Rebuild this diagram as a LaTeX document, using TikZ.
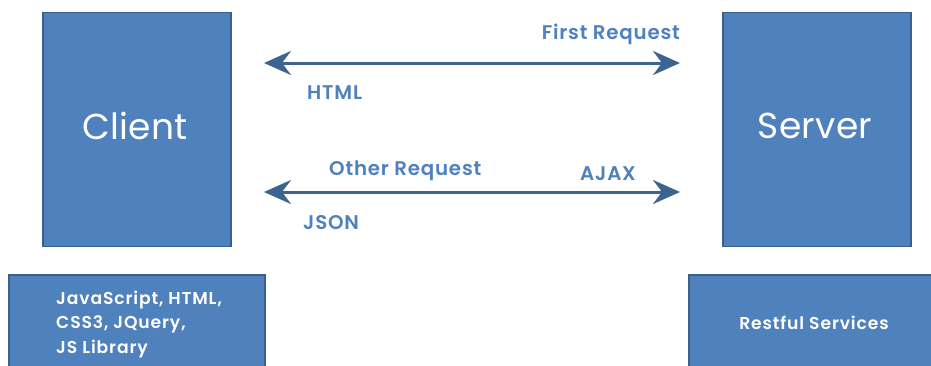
\documentclass[tikz,border=0pt]{standalone}
\usepackage{fontspec}
\setmainfont{Poppins}[BoldFont={Poppins SemiBold}]
\usetikzlibrary{arrows.meta}
\definecolor{boxfill}{HTML}{4F81BD}
\definecolor{boxdraw}{HTML}{3A5F8B}
\definecolor{arrowc}{HTML}{3D6391}
\definecolor{labc}{HTML}{4F81BD}
\tikzset{
  bigbox/.style={draw=boxdraw, fill=boxfill, line width=1.2pt, inner sep=0pt},
  bigtext/.style={text=white, font=\fontsize{36}{40}\selectfont\addfontfeatures{LetterSpace=1}},
  smalltext/.style={text=white, inner sep=0pt, font=\fontsize{17.2}{24.5}\selectfont\bfseries\addfontfeatures{LetterSpace=5}},
  lab/.style={text=labc, font=\fontsize{19.8}{20}\selectfont\bfseries\addfontfeatures{LetterSpace=4}, inner sep=0pt},
  dblarrow/.style={draw=arrowc, line width=3pt, {Stealth[length=27pt,width=24pt,inset=9pt]}-{Stealth[length=27pt,width=24pt,inset=9pt]}}
}
\begin{document}
\begin{tikzpicture}[x=1pt,y=-1pt]
\useasboundingbox (0,0) rectangle (931,365);
\fill[white] (0,0) rectangle (931,365);
% main boxes
\node[bigbox, minimum width=188pt, minimum height=234pt] (client) at (137,129.5) {};
\node[bigtext] (clientt) at (135,126) {Client};
\node[bigbox, minimum width=188pt, minimum height=234pt] (server) at (817,129.5) {};
\node[bigtext] (servert) at (815,126) {Server};
% bottom boxes
\node[bigbox, minimum width=256pt, minimum height=120pt] (tech) at (137,335) {};
\node[smalltext, align=left, anchor=base west] (techt) at (56,353) {JavaScript, HTML,\\CSS3, JQuery,\\JS Library};
\node[bigbox, minimum width=260pt, minimum height=120pt] (rest) at (819,335) {};
\node[smalltext, anchor=base] (restt) at (814,329) {Restful Services};
% arrow anchors
\coordinate (a1l) at (264,63);
\coordinate (a1r) at (680,63);
\coordinate (a2l) at (264,192);
\coordinate (a2r) at (680,192);
\draw[dblarrow] (a1l) -- (a1r);
\draw[dblarrow] (a2l) -- (a2r);
% labels
\node[lab, anchor=base east] (first) at (680,39) {First Request};
\node[lab, anchor=base west] (html) at (307,99) {HTML};
\node[lab, anchor=base west] (other) at (329,175) {Other Request};
\node[lab, anchor=base west] (ajax) at (580,180) {AJAX};
\node[lab, anchor=base west] (json) at (303,229) {JSON};
\end{tikzpicture}
\end{document}
